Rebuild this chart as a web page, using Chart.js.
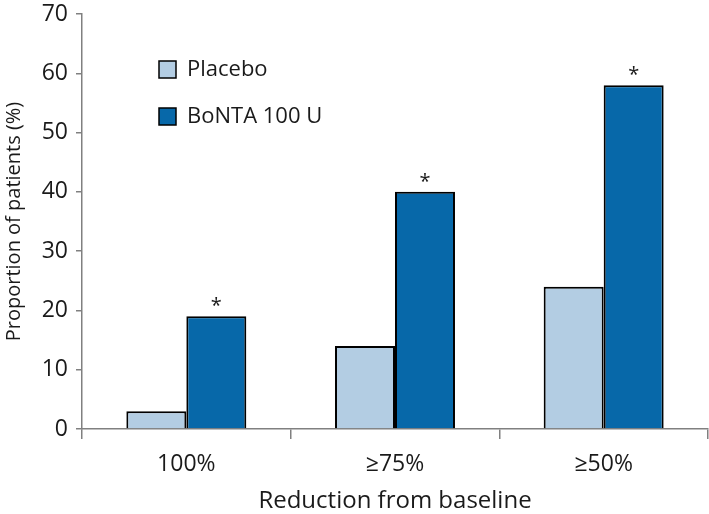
<!DOCTYPE html>
<html>
<head>
<meta charset="utf-8">
<script src="https://cdn.jsdelivr.net/npm/chart.js@4.4.0/dist/chart.umd.min.js"></script>
<style>
  html, body { margin: 0; padding: 0; background: #fff; }
  #wrap { width: 709px; height: 514px; }
</style>
</head>
<body>
<div id="wrap"><canvas id="chart"></canvas></div>
<script>
const categories = ['100%', '\u226575%', '\u226550%'];
const placeboValues = [3, 14, 24];
const bontaValues = [19, 40, 58];
const significant = [true, true, true];
const yTicks = [0, 10, 20, 30, 40, 50, 60, 70];

const FONT = '"Open Sans", "DejaVu Sans", sans-serif';
const AXIS_GREY = '#808080';
const TEXT = '#1a1a1a';

// Legend drawn inside the plot area, upper left
const insideLegend = {
    id: 'insideLegend',
    afterDraw(chart) {
        const ctx = chart.ctx;
        const items = chart.data.datasets;
        const x0 = 159, y0 = 61, gap = 47;
        ctx.save();
        ctx.font = '22px ' + FONT;
        ctx.textBaseline = 'middle';
        items.forEach((ds, i) => {
            const y = y0 + i * gap;
            ctx.fillStyle = ds.backgroundColor;
            ctx.strokeStyle = '#000';
            ctx.lineWidth = 1.5;
            ctx.fillRect(x0, y, 17, 17);
            ctx.strokeRect(x0, y, 17, 17);
            ctx.fillStyle = TEXT;
            ctx.fillText(ds.label, x0 + 28, y + 9);
        });
        ctx.restore();
    }
};

// Asterisks over significant bars
const starPlugin = {
    id: 'starPlugin',
    afterDatasetsDraw(chart) {
        const meta = chart.getDatasetMeta(1);
        const ctx = chart.ctx;
        ctx.save();
        ctx.font = '20px ' + FONT;
        ctx.fillStyle = TEXT;
        ctx.textAlign = 'center';
        ctx.textBaseline = 'alphabetic';
        meta.data.forEach((bar, i) => {
            if (significant[i]) ctx.fillText('*', bar.x, bar.y - 4);
        });
        ctx.restore();
    }
};

new Chart(document.getElementById('chart'), {
    type: 'bar',
    data: {
        labels: categories,
        datasets: [{
            label: 'Placebo',
            data: placeboValues,
            backgroundColor: '#b3cde3',
            borderColor: '#000',
            borderWidth: 2,
            borderSkipped: 'bottom'
        }, {
            label: 'BoNTA 100 U',
            data: bontaValues,
            backgroundColor: '#0768a9',
            borderColor: '#000',
            borderWidth: 2,
            borderSkipped: 'bottom'
        }]
    },
    options: {
        responsive: true,
        maintainAspectRatio: false,
        animation: false,
        layout: { padding: { top: 14, right: 1, left: 2, bottom: 0 } },
        plugins: {
            legend: { display: false },
            tooltip: { enabled: false }
        },
        datasets: {
            bar: { categoryPercentage: 0.575, barPercentage: 1.0 }
        },
        scales: {
            x: {
                afterFit(axis) {
                    axis.height = 85;
                    axis.paddingLeft = 0;
                    axis.paddingRight = 0;
                },
                grid: {
                    offset: true,
                    drawOnChartArea: false,
                    drawTicks: true,
                    tickLength: 10,
                    color: AXIS_GREY,
                    lineWidth: 1.5
                },
                border: { color: AXIS_GREY, width: 1.5 },
                ticks: {
                    color: TEXT,
                    font: { family: FONT, size: 23 },
                    padding: 12
                },
                title: {
                    display: true,
                    text: 'Reduction from baseline',
                    color: TEXT,
                    font: { family: FONT, size: 24 },
                    padding: { top: 4, bottom: -2 }
                }
            },
            y: {
                min: 0,
                max: 70,
                afterBuildTicks(axis) {
                    axis.ticks = yTicks.map(v => ({ value: v }));
                },
                afterFit(axis) {
                    axis.width = 80;
                    axis.paddingTop = 0;
                    axis.paddingBottom = 0;
                },
                grid: {
                    drawOnChartArea: false,
                    drawTicks: true,
                    tickLength: 6,
                    color: AXIS_GREY,
                    lineWidth: 1.5
                },
                border: { color: AXIS_GREY, width: 1.5 },
                ticks: {
                    color: TEXT,
                    font: { family: FONT, size: 23 },
                    padding: 8
                },
                title: {
                    display: true,
                    text: 'Proportion of patients (%)',
                    color: TEXT,
                    font: { family: FONT, size: 20 },
                    padding: { top: 0, bottom: 6 }
                }
            }
        }
    },
    plugins: [insideLegend, starPlugin]
});
</script>
</body>
</html>
